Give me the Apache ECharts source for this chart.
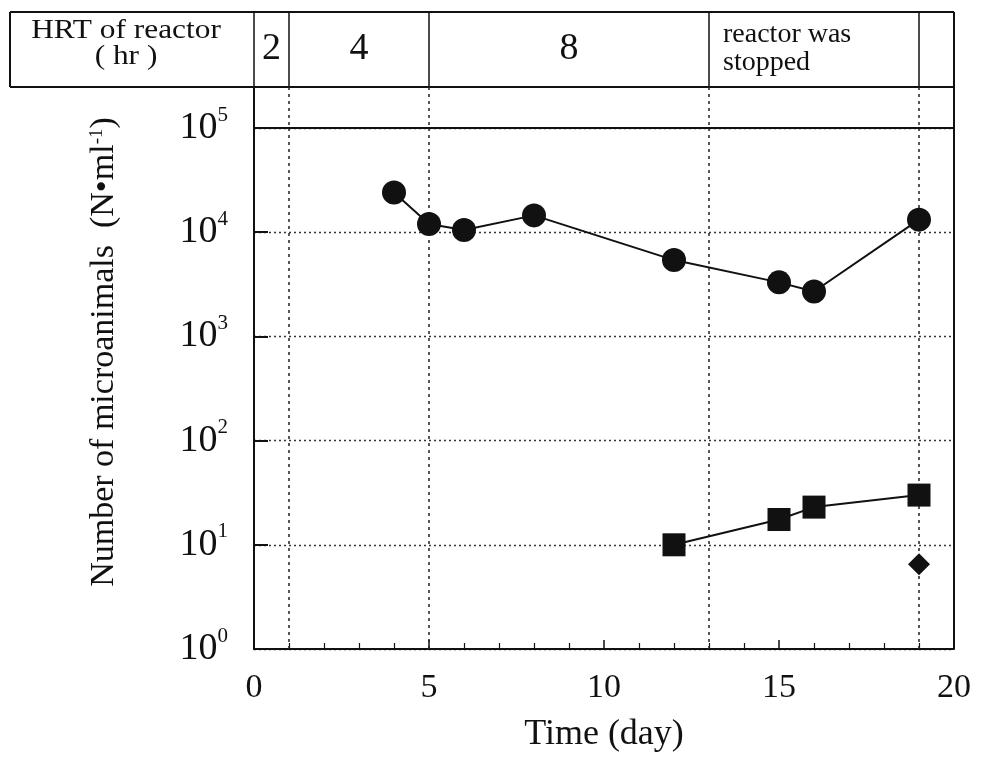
<!DOCTYPE html>
<html><head><meta charset="utf-8">
<script src="https://cdn.jsdelivr.net/npm/echarts@6/dist/echarts.min.js"></script>
<style>html,body{margin:0;padding:0;background:#fff}#c{width:985px;height:761px}</style>
</head><body><div id="c"></div>
<script>
// ---- data ----
const circleDays = [4, 5, 6, 8, 12, 15, 16, 19];
const circleVals = [24000, 12000, 10500, 14500, 5400, 3300, 2700, 13200];
const squareDays = [12, 15, 16, 19];
const squareVals = [10, 17.5, 23, 30];
const diamondDays = [19];
const diamondVals = [6.5];
const xTicks = [0, 5, 10, 15, 20];
const yExponents = [0, 1, 2, 3, 4, 5];
const phaseBounds = [0, 1, 5, 13, 19, 20];
const phaseLabels = ['2', '4', '8', 'reactor was\nstopped', ''];
const headerTitle = 'HRT of reactor\n( hr )';
const xTitle = 'Time (day)';
const yTitleMain = 'Number of microanimals  (N\u2022ml';
const yTitleSup = '-1';

const FONT = '"Liberation Serif", "DejaVu Serif", serif';
const INK = '#111';

const chart = echarts.init(document.getElementById('c'), null, {renderer: 'canvas'});

function pairs(xs, ys) { return xs.map((x, i) => [x, ys[i]]); }

chart.setOption({
  animation: false,
  backgroundColor: '#fff',
  grid: {left: 254, right: 31, top: 128, bottom: 112, containLabel: false},
  xAxis: {
    type: 'value', min: xTicks[0], max: xTicks[xTicks.length - 1], interval: 5,
    name: xTitle, nameLocation: 'middle', nameGap: 68,
    nameTextStyle: {fontFamily: FONT, fontSize: 36, color: INK},
    axisLine: {show: true, lineStyle: {color: INK, width: 2}},
    axisTick: {show: true, inside: true, length: 9, lineStyle: {color: INK, width: 1.5}},
    minorTick: {show: true, splitNumber: 5, length: 6, lineStyle: {color: INK, width: 1.2}},
    axisLabel: {fontFamily: FONT, fontSize: 34, color: INK, margin: 22},
    splitLine: {show: false}
  },
  yAxis: {
    type: 'log', logBase: 10, min: Math.pow(10, yExponents[0]), max: Math.pow(10, yExponents[yExponents.length - 1]),
    axisLine: {show: true, lineStyle: {color: INK, width: 2}},
    axisTick: {show: true, inside: true, length: 14, lineStyle: {color: INK, width: 2}},
    axisLabel: {
      margin: 26,
      formatter: v => '{b|10}{s|' + Math.round(Math.log10(v)) + '}',
      rich: {
        b: {fontFamily: FONT, fontSize: 38, color: INK},
        s: {fontFamily: FONT, fontSize: 21, color: INK, padding: [0, 0, 26, 0]}
      }
    },
    splitLine: {show: true, lineStyle: {color: '#333', type: [2, 3], width: 1.3}}
  },
  series: [
    {
      type: 'line', data: pairs(circleDays, circleVals),
      symbol: 'circle', symbolSize: 24,
      lineStyle: {color: INK, width: 2}, itemStyle: {color: INK, opacity: 1},
      z: 5,
      markLine: {
        silent: true, symbol: 'none', label: {show: false}, z: 2,
        lineStyle: {color: '#222', type: [3, 4], width: 1.5},
        data: phaseBounds.slice(1, -1).map(d => ({xAxis: d}))
      }
    },
    {
      type: 'line', data: pairs(squareDays, squareVals),
      symbol: 'rect', symbolSize: 23,
      lineStyle: {color: INK, width: 2}, itemStyle: {color: INK, opacity: 1}, z: 5
    },
    {
      type: 'scatter', data: pairs(diamondDays, diamondVals),
      symbol: 'diamond', symbolSize: 22, itemStyle: {color: INK, opacity: 1}, z: 8
    }
  ]
});

// ---- header table and borders (positions from the axis scales) ----
const xp = d => chart.convertToPixel({xAxisIndex: 0}, d);
const yp = v => chart.convertToPixel({yAxisIndex: 0}, v);
const xL = xp(phaseBounds[0]);
const xR = xp(phaseBounds[phaseBounds.length - 1]);
const yTopAxis = yp(Math.pow(10, yExponents[yExponents.length - 1]));
const yBot = yp(Math.pow(10, yExponents[0]));
const hTop = 12, hBot = 87, boxLeft = 10;
const g = [];
const solid = {stroke: INK, lineWidth: 2};
function line(x1, y1, x2, y2, style) {
  g.push({type: 'line', shape: {x1, y1, x2, y2}, style: Object.assign({fill: null}, style), silent: true, z: 10});
}
// header rows
line(boxLeft, hTop, xR, hTop, solid);
line(boxLeft, hBot, xR, hBot, solid);
line(boxLeft, hTop, boxLeft, hBot, solid);
phaseBounds.forEach(d => line(xp(d), hTop, xp(d), hBot, {stroke: INK, lineWidth: 1.5}));
// strip between header and 10^5
line(xL, hBot, xL, yTopAxis, solid);
line(xR, hTop, xR, yBot, solid);
line(xL, yTopAxis, xR, yTopAxis, solid);
phaseBounds.slice(1, -1).forEach(d => line(xp(d), hBot, xp(d), yTopAxis, {stroke: '#222', lineWidth: 1.5, lineDash: [3, 4]}));
// header texts
g.push({type: 'text', silent: true, z: 11, x: (boxLeft + xL) / 2 - 6, y: 44, scaleX: 1.12,
  style: {text: headerTitle, x: 0, y: 0, align: 'center', verticalAlign: 'middle',
    font: '28px ' + FONT, fill: INK, lineHeight: 26}});
phaseLabels.forEach((t, i) => {
  if (!t) return;
  const a = xp(phaseBounds[i]), b = xp(phaseBounds[i + 1]);
  if (t.indexOf('\n') >= 0) {
    g.push({type: 'text', silent: true, z: 11,
      style: {text: t, x: a + 14, y: 49, align: 'left', verticalAlign: 'middle',
        font: '28px ' + FONT, fill: INK, lineHeight: 28}});
  } else {
    g.push({type: 'text', silent: true, z: 11,
      style: {text: t, x: (a + b) / 2, y: 49, align: 'center', verticalAlign: 'middle',
        font: '38px ' + FONT, fill: INK}});
  }
});
// y axis title
g.push({type: 'text', silent: true, z: 11, x: 104, y: 352, rotation: Math.PI / 2,
  style: {text: '{a|' + yTitleMain + '}{s|' + yTitleSup + '}{a|)}', align: 'center', verticalAlign: 'middle',
    rich: {a: {fontFamily: FONT, fontSize: 34, fill: INK, color: INK},
           s: {fontFamily: FONT, fontSize: 19, fill: INK, color: INK, padding: [0, 0, 14, 0]}}}});
chart.setOption({graphic: g});
</script>
</body></html>
